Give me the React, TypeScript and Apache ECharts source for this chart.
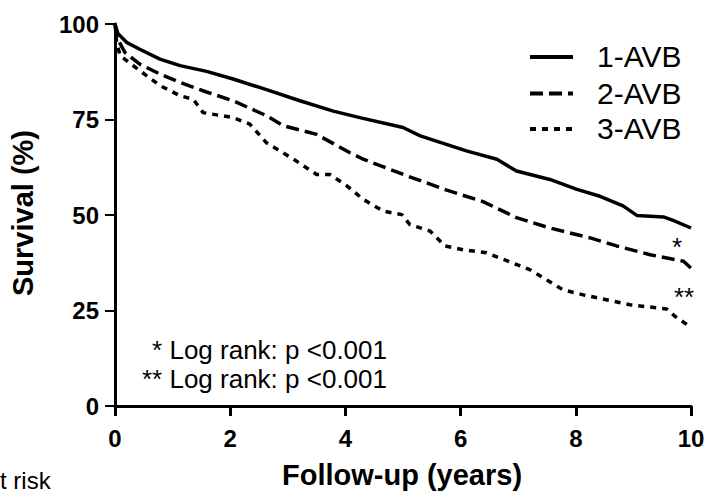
import React, { useEffect, useRef } from "react";
import * as echarts from "echarts";

const FONT = "'Liberation Sans', Arial, Helvetica, sans-serif";

const seriesNames = ["1-AVB", "2-AVB", "3-AVB"];

const years1 = [0, 0.05, 0.2, 0.43, 0.78, 1.13, 1.59, 2.05, 2.63, 3.21, 3.79, 4.25, 5.0, 5.3, 6.1, 6.63, 6.97, 7.55, 8.02, 8.42, 8.82, 9.06, 9.52, 9.69, 10.0];
const surv1 = [100, 97.5, 95.2, 93.4, 90.8, 89.1, 87.6, 85.6, 82.8, 79.9, 77.2, 75.5, 72.9, 70.7, 66.8, 64.6, 61.5, 59.3, 56.7, 54.9, 52.4, 49.9, 49.5, 48.6, 46.6];

const years2 = [0, 0.05, 0.17, 0.43, 0.78, 1.13, 1.59, 2.05, 2.63, 2.92, 3.5, 4.08, 4.31, 5.06, 5.76, 6.39, 6.97, 7.55, 8.25, 8.71, 9.29, 9.87, 10.0];
const surv2 = [100, 96, 92.6, 89.5, 86.9, 84.7, 82.2, 79.9, 76.0, 73.4, 71.1, 66.3, 64.6, 60.3, 56.5, 53.5, 49.3, 46.6, 44.0, 41.9, 39.6, 37.9, 36.1];

const years3 = [0, 0.03, 0.09, 0.43, 0.78, 1.13, 1.36, 1.53, 2.05, 2.34, 2.63, 3.1, 3.5, 3.73, 4.02, 4.31, 4.66, 4.98, 5.12, 5.47, 5.73, 6.05, 6.45, 7.2, 7.78, 8.13, 8.94, 9.58, 9.72, 9.98];
const surv3 = [100, 95, 91.7, 87.8, 83.9, 81.2, 80.3, 76.8, 75.5, 73.8, 68.9, 64.6, 60.6, 60.6, 57.7, 54.1, 51.0, 50.1, 47.5, 45.8, 41.9, 40.9, 40.1, 35.7, 30.4, 29.1, 26.5, 25.4, 23.5, 20.8];

const xTitle = "Follow-up (years)";
const yTitle = "Survival (%)";
const logRankLines = ["* Log rank: p <0.001", "** Log rank: p <0.001"];
const markers = ["*", "**"];
const atRisk = "t risk";

const pairs = (xs: number[], ys: number[]) => xs.map((x, i) => [x, ys[i]]);

export default function App() {
  const ref = useRef<HTMLDivElement>(null);
  useEffect(() => {
    document.body.style.margin = "0";
    if (!ref.current) return;
    const chart = echarts.init(ref.current, undefined, { renderer: "svg" });
    const dashes: any[] = [null, [13, 6], [6, 6]];
    const lineTypes: any[] = ["solid", [13, 6], [6, 6]];
    const datasets = [pairs(years1, surv1), pairs(years2, surv2), pairs(years3, surv3)];
    const legendLineY = [57, 93.5, 129];
    const legendGraphics: any[] = [];
    seriesNames.forEach((name, i) => {
      legendGraphics.push({
        type: "line",
        shape: { x1: 530, y1: legendLineY[i], x2: 573, y2: legendLineY[i] },
        style: { stroke: "#000", lineWidth: 4, lineDash: dashes[i] || undefined },
      });
      legendGraphics.push({
        type: "text",
        x: 597,
        y: legendLineY[i] - 0.5,
        style: { text: name, font: `30px ${FONT}`, fill: "#000", align: "left", verticalAlign: "middle" },
      });
    });
    chart.setOption({
      animation: false,
      backgroundColor: "#fff",
      grid: { left: 115, right: 17, top: 24, bottom: 88 },
      xAxis: {
        type: "value",
        min: 0,
        max: 10,
        interval: 2,
        axisLine: { show: true, lineStyle: { color: "#000", width: 3 } },
        axisTick: { show: true, length: 10, lineStyle: { color: "#000", width: 3 } },
        axisLabel: { color: "#000", fontSize: 24, fontWeight: "bold", fontFamily: FONT, margin: 20 },
        splitLine: { show: false },
      },
      yAxis: {
        type: "value",
        min: 0,
        max: 100,
        interval: 25,
        axisLine: { show: true, lineStyle: { color: "#000", width: 3 } },
        axisTick: { show: true, length: 10, lineStyle: { color: "#000", width: 2 } },
        axisLabel: { color: "#000", fontSize: 24, fontWeight: "bold", fontFamily: FONT, margin: 16 },
        splitLine: { show: false },
      },
      series: seriesNames.map((name, i) => ({
        name,
        type: "line",
        data: datasets[i],
        showSymbol: false,
        symbol: "none",
        lineStyle: { color: "#000", width: 3.5, type: lineTypes[i] },
        itemStyle: { color: "#000" },
      })),
      graphic: [
        ...legendGraphics,
        {
          type: "text",
          x: 402,
          y: 475,
          style: { text: xTitle, font: `bold 29px ${FONT}`, fill: "#000", align: "center", verticalAlign: "middle" },
        },
        {
          type: "text",
          x: 23,
          y: 213,
          rotation: Math.PI / 2,
          style: { text: yTitle, font: `bold 29px ${FONT}`, fill: "#000", align: "center", verticalAlign: "middle" },
        },
        {
          type: "text",
          x: 387,
          y: 350,
          style: { text: logRankLines[0], font: `26px ${FONT}`, fill: "#000", align: "right", verticalAlign: "middle" },
        },
        {
          type: "text",
          x: 387,
          y: 379,
          style: { text: logRankLines[1], font: `26px ${FONT}`, fill: "#000", align: "right", verticalAlign: "middle" },
        },
        {
          type: "text",
          x: 677,
          y: 247,
          style: { text: markers[0], font: `26px ${FONT}`, fill: "#000", align: "center", verticalAlign: "middle" },
        },
        {
          type: "text",
          x: 684,
          y: 297,
          style: { text: markers[1], font: `26px ${FONT}`, fill: "#000", align: "center", verticalAlign: "middle" },
        },
        {
          type: "text",
          x: 0,
          y: 480,
          style: { text: atRisk, font: `24px ${FONT}`, fill: "#000", align: "left", verticalAlign: "middle" },
        },
      ],
    });
    return () => chart.dispose();
  }, []);
  return <div ref={ref} style={{ position: "absolute", left: 0, top: 0, width: 708, height: 494 }} />;
}
